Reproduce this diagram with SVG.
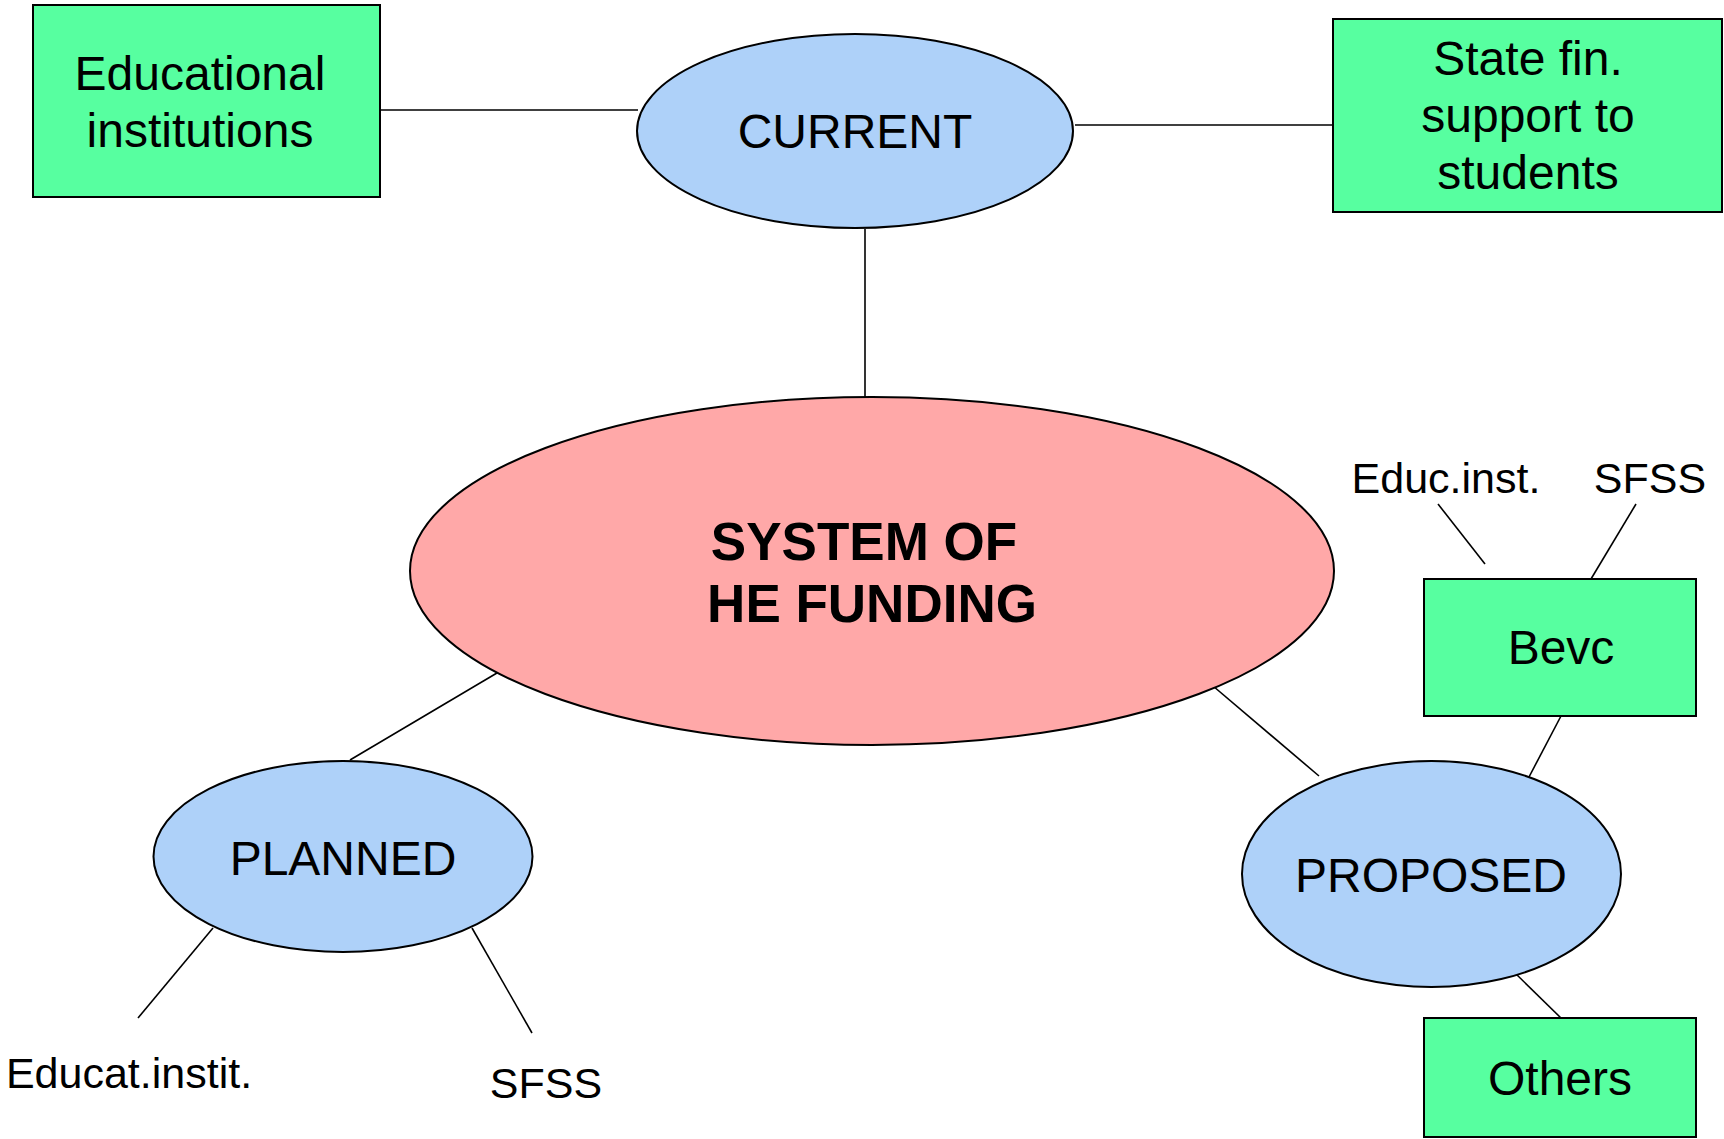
<svg xmlns="http://www.w3.org/2000/svg" width="1724" height="1139" viewBox="0 0 1724 1139">
  <style>
    .box { fill: #57ffa0; stroke: #000; stroke-width: 2; }
    .oval { fill: #aed1f9; stroke: #000; stroke-width: 2; }
    .core { fill: #ffa8a8; stroke: #000; stroke-width: 2; }
    .link { stroke: #000; stroke-width: 1.6; fill: none; }
    text { font-family: "Liberation Sans", Arial, sans-serif; fill: #000; text-anchor: middle; }
    .t48 { font-size: 48px; }
    .t41 { font-size: 43px; }
    .bold { font-size: 53px; font-weight: bold; }
  </style>
  <rect width="1724" height="1139" fill="#fff"/>

  <g id="connectors">
    <line class="link" x1="380" y1="110" x2="638" y2="110"/>
    <line class="link" x1="1075" y1="125" x2="1333" y2="125"/>
    <line class="link" x1="865" y1="229" x2="865" y2="397"/>
    <line class="link" x1="502" y1="670" x2="350" y2="760"/>
    <line class="link" x1="1213" y1="686" x2="1319" y2="776"/>
    <line class="link" x1="213" y1="928" x2="138" y2="1018"/>
    <line class="link" x1="472" y1="928" x2="532" y2="1033"/>
    <line class="link" x1="1438" y1="504" x2="1485" y2="564"/>
    <line class="link" x1="1636" y1="504" x2="1591" y2="579"/>
    <line class="link" x1="1561" y1="716" x2="1529" y2="777"/>
    <line class="link" x1="1514" y1="972" x2="1561" y2="1018"/>
  </g>

  <g id="educational-institutions">
    <rect class="box" x="33" y="5" width="347" height="192"/>
    <text class="t48" x="200" y="90">Educational</text>
    <text class="t48" x="200" y="147">institutions</text>
  </g>

  <g id="current">
    <ellipse class="oval" cx="855" cy="131" rx="218" ry="97"/>
    <text class="t48" x="855" y="148">CURRENT</text>
  </g>

  <g id="state-support">
    <rect class="box" x="1333" y="19" width="389" height="193"/>
    <text class="t48" x="1528" y="75">State fin.</text>
    <text class="t48" x="1528" y="132">support to</text>
    <text class="t48" x="1528" y="189">students</text>
  </g>

  <g id="system">
    <ellipse class="core" cx="872" cy="571" rx="462" ry="174"/>
    <text class="bold" x="864" y="560">SYSTEM OF</text>
    <text class="bold" x="872" y="622">HE FUNDING</text>
  </g>

  <g id="planned">
    <ellipse class="oval" cx="343" cy="856.5" rx="189.5" ry="95.5"/>
    <text class="t48" x="343" y="875">PLANNED</text>
  </g>

  <g id="planned-educ">
    <text class="t41" x="129" y="1088">Educat.instit.</text>
  </g>

  <g id="planned-sfss">
    <text class="t41" x="546" y="1098">SFSS</text>
  </g>

  <g id="proposed">
    <ellipse class="oval" cx="1431.5" cy="874" rx="189.5" ry="113"/>
    <text class="t48" x="1431" y="892">PROPOSED</text>
  </g>

  <g id="bevc">
    <rect class="box" x="1424" y="579" width="272" height="137"/>
    <text class="t48" x="1561" y="664">Bevc</text>
  </g>

  <g id="bevc-educ">
    <text class="t41" x="1446" y="493">Educ.inst.</text>
  </g>

  <g id="bevc-sfss">
    <text class="t41" x="1650" y="493">SFSS</text>
  </g>

  <g id="others">
    <rect class="box" x="1424" y="1018" width="272" height="119"/>
    <text class="t48" x="1560" y="1095">Others</text>
  </g>
</svg>
